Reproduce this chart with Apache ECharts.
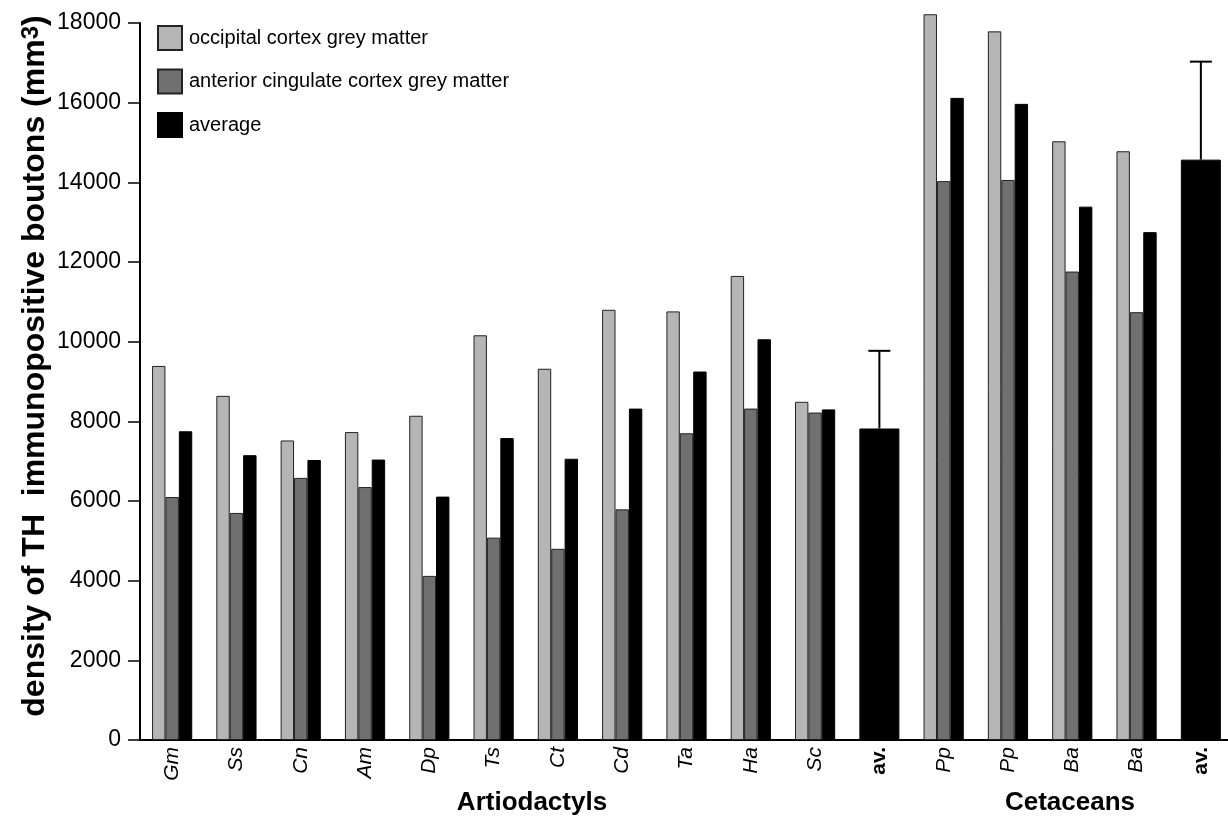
<!DOCTYPE html>
<html>
<head>
<meta charset="utf-8">
<script src="https://cdn.jsdelivr.net/npm/echarts@6/dist/echarts.min.js"></script>
<style>
html,body{margin:0;padding:0;background:#fff;overflow:hidden;}
#chart{width:1233px;height:816px;}
</style>
</head>
<body>
<div id="chart"></div>
<script>
const categories = ['Gm','Ss','Cn','Am','Dp','Ts','Ct','Cd','Ta','Ha','Sc','av.','Pp','Pp','Ba','Ba','av.'];
const occipital = [9390,8640,7520,7730,8140,10160,9320,10800,10760,11650,8490,null,18220,17790,15030,14780,null];
const cingulate = [6100,5700,6580,6350,4120,5080,4800,5790,7700,8320,8220,null,14030,14060,11760,10740,null];
const average   = [7750,7150,7030,7040,6110,7580,7060,8320,9250,10060,8300,null,16120,15970,13390,12750,null];
const groupAverage      = [null,null,null,null,null,null,null,null,null,null,null,7820,null,null,null,null,14570];
const groupAverageUpper = [null,null,null,null,null,null,null,null,null,null,null,9770,null,null,null,null,17030];
const yTicks = {min:0, max:18000, interval:2000};
const seriesNames = ['occipital cortex grey matter','anterior cingulate cortex grey matter','average'];
const groupLabels = ['Artiodactyls','Cetaceans'];

const FONT = '"Liberation Sans", Arial, Helvetica, sans-serif';
const errData = [];
groupAverage.forEach((v,i)=>{ if(v!=null) errData.push([i, v, groupAverageUpper[i]]); });

const chart = echarts.init(document.getElementById('chart'), null, {renderer:'canvas'});
chart.setOption({
  animation:false,
  backgroundColor:'#fff',
  textStyle:{fontFamily:FONT},
  grid:{left:140, right:0, top:23, bottom:76, containLabel:false},
  legend:{
    orient:'vertical', left:157, top:25, padding:0, itemWidth:24, itemHeight:24, itemGap:17.5,
    data:seriesNames, icon:'rect',
    textStyle:{fontSize:20, color:'#000', fontFamily:FONT, padding:[0,0,0,2]}
  },
  xAxis:[{
    type:'category', data:categories, position:'bottom',
    axisLine:{show:true, lineStyle:{color:'#000', width:2}},
    axisTick:{show:false},
    axisLabel:{interval:0, rotate:90, fontSize:21, fontStyle:'italic', color:'#000', margin:7, fontFamily:FONT,
      formatter:v=> v==='av.' ? '' : v}
  },{
    type:'category', data:categories, position:'bottom',
    axisLine:{show:false}, axisTick:{show:false},
    axisLabel:{interval:0, rotate:90, fontSize:21, fontWeight:'bold', color:'#000', margin:7, fontFamily:FONT,
      formatter:v=> v==='av.' ? v : ''}
  }],
  yAxis:{
    type:'value', min:yTicks.min, max:yTicks.max, interval:yTicks.interval,
    axisLine:{show:true, lineStyle:{color:'#000', width:2}},
    axisTick:{show:true, inside:false, length:12, lineStyle:{color:'#000', width:1.5}},
    axisLabel:{fontSize:23, color:'#000', margin:19, fontFamily:FONT, formatter:v=>String(v)},
    splitLine:{show:false}
  },
  graphic:[
    {type:'text', x:35, y:366, rotation:Math.PI/2,
      style:{text:'{n|density of TH  immunopositive boutons (mm}{s|3}{n|)}', align:'center', verticalAlign:'middle',
        rich:{n:{font:'bold 32px '+FONT, fill:'#000'}, s:{font:'bold 24px '+FONT, fill:'#000', verticalAlign:'top'}}}},
    {type:'text', x:532, y:803, style:{text:groupLabels[0], font:'bold 26px '+FONT, fill:'#000', align:'center', verticalAlign:'middle'}},
    {type:'text', x:1070, y:803, style:{text:groupLabels[1], font:'bold 26px '+FONT, fill:'#000', align:'center', verticalAlign:'middle'}}
  ],
  series:[
    {name:seriesNames[0], type:'bar', data:occipital, barWidth:13.4, barGap:'0%', clip:false,
      itemStyle:{color:'#b5b5b5', borderColor:'#222', borderWidth:1}},
    {name:seriesNames[1], type:'bar', data:cingulate, barWidth:13.4, barGap:'0%', clip:false,
      itemStyle:{color:'#707070', borderColor:'#222', borderWidth:1}},
    {name:seriesNames[2], type:'bar', data:average, barWidth:13.4, barGap:'0%', clip:false,
      itemStyle:{color:'#000', borderColor:'#000', borderWidth:1}},
    {name:seriesNames[2], type:'bar', xAxisIndex:1, data:groupAverage, barWidth:40, clip:false,
      itemStyle:{color:'#000', borderColor:'#000', borderWidth:1}},
    {name:seriesNames[2], type:'custom', xAxisIndex:1, data:errData, clip:false, z:5,
      renderItem:function(params, api){
        const x = api.value(0);
        const lo = api.coord([x, api.value(1)]);
        const hi = api.coord([x, api.value(2)]);
        return {type:'group', children:[
          {type:'line', shape:{x1:lo[0], y1:lo[1], x2:hi[0], y2:hi[1]}, style:{stroke:'#000', lineWidth:2}},
          {type:'line', shape:{x1:hi[0]-11, y1:hi[1], x2:hi[0]+11, y2:hi[1]}, style:{stroke:'#000', lineWidth:2}}
        ]};
      }}
  ]
});
</script>
</body>
</html>
